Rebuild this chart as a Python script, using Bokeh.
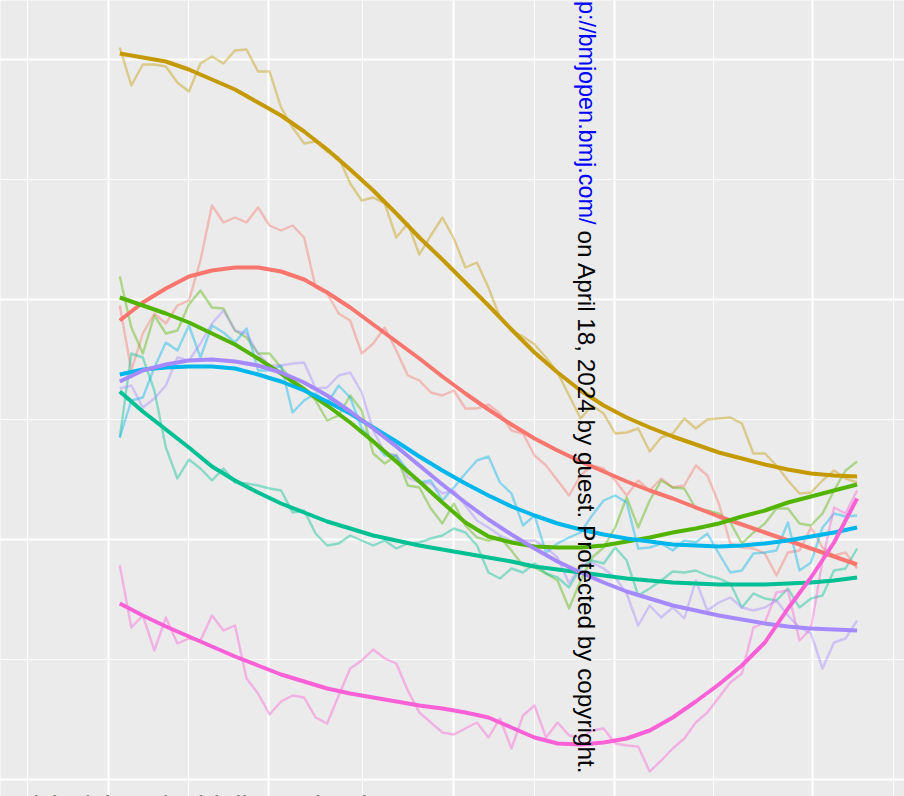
import math
from bokeh.plotting import figure
from bokeh.models import Range1d, FixedTicker, Label, Grid
from bokeh.embed import file_html
from bokeh.resources import INLINE

# ---------------- data ----------------
# x: observation index 0..64 ; y: value on the panel's (unlabelled) scale
idx = list(range(65))
smooth_idx = list(range(0, 65, 2))

gold_raw = [732, 694, 715, 715, 713, 697, 688, 716, 723, 716, 729, 730, 708, 708, 672, 652,
            636, 638, 628, 622, 596, 579, 582, 576, 542, 556, 525, 544, 562, 541, 512, 517,
            492, 462, 449, 443, 435, 422, 407, 384, 361, 374, 366, 346, 347, 351, 328, 342,
            346, 361, 351, 360, 361, 362, 356, 326, 326, 314, 299, 286, 287, 299, 309, 301, 297]
gold_smooth = [726, 722, 718, 710, 700, 690, 677, 664, 648, 630, 610, 589, 566, 542, 520, 497,
               474, 450, 427, 407, 389, 374, 362, 352, 343, 335, 327, 321, 315, 310, 306, 304, 303]

red_raw = [474, 409, 446, 466, 456, 474, 479, 519, 574, 557, 562, 557, 572, 554, 549, 554,
           542, 492, 486, 466, 459, 426, 436, 452, 429, 404, 399, 387, 384, 389, 371, 371,
           375, 366, 349, 346, 324, 314, 299, 284, 304, 314, 311, 299, 284, 299, 289, 301,
           292, 294, 314, 304, 276, 236, 232, 231, 226, 204, 227, 229, 252, 232, 224, 227, 211]
red_smooth = [459, 477, 491, 503, 509, 512, 512, 508, 500, 487, 472, 455, 438, 421, 403, 386,
              370, 355, 341, 329, 318, 308, 298, 289, 281, 272, 263, 255, 247, 239, 231, 223, 215]

green_raw = [503, 452, 426, 464, 446, 449, 475, 489, 472, 471, 449, 442, 426, 426, 412, 399,
             392, 379, 359, 364, 384, 369, 326, 316, 324, 294, 292, 271, 256, 276, 254, 242,
             239, 242, 229, 214, 212, 206, 199, 171, 199, 222, 232, 252, 282, 252, 279, 299,
             292, 291, 271, 269, 266, 257, 236, 247, 256, 271, 271, 256, 254, 266, 289, 309, 318]
green_smooth = [482, 474, 466, 457, 446, 435, 421, 406, 390, 374, 357, 338, 318, 298, 277, 257,
                243, 237, 233, 232, 232, 234, 238, 242, 247, 251, 256, 263, 269, 277, 283, 289, 295]

teal_raw = [342, 426, 422, 389, 332, 301, 320, 311, 299, 311, 297, 296, 294, 291, 289, 267,
            269, 246, 234, 236, 244, 239, 234, 239, 231, 236, 237, 241, 244, 251, 247, 234,
            207, 201, 211, 207, 216, 206, 202, 192, 212, 219, 216, 232, 219, 184, 191, 199,
            208, 207, 209, 204, 201, 196, 172, 186, 181, 179, 191, 172, 181, 184, 209, 211, 231]
teal_smooth = [388, 368, 350, 332, 313, 299, 287, 276, 267, 258, 251, 244, 239, 234, 230, 226,
               222, 218, 213, 210, 207, 204, 201, 199, 197, 196, 195, 195, 195, 196, 197, 199, 202]

blue_raw = [342, 379, 382, 412, 437, 429, 454, 422, 454, 447, 437, 451, 409, 409, 414, 367,
            379, 386, 376, 394, 382, 351, 339, 324, 324, 309, 297, 299, 279, 292, 306, 319,
            323, 297, 286, 254, 264, 227, 236, 242, 247, 264, 279, 284, 277, 231, 232, 236,
            229, 239, 237, 246, 226, 207, 209, 226, 227, 229, 257, 209, 217, 252, 266, 263, 264]
blue_smooth = [405, 410, 412, 413, 413, 411, 405, 398, 389, 378, 366, 352, 338, 323, 309, 296,
               284, 273, 264, 256, 250, 245, 241, 238, 235, 234, 233, 234, 236, 239, 243, 247, 252]

purple_raw = [391, 394, 372, 381, 394, 422, 419, 436, 456, 469, 449, 446, 426, 414, 414, 416,
              417, 391, 392, 404, 407, 387, 349, 327, 324, 302, 297, 296, 286, 289, 274, 259,
              252, 244, 239, 239, 239, 232, 222, 196, 214, 217, 211, 202, 186, 154, 174, 162,
              172, 161, 199, 169, 177, 182, 172, 169, 172, 179, 164, 152, 146, 111, 137, 141, 159]
purple_smooth = [398, 409, 415, 419, 420, 418, 414, 407, 397, 384, 368, 351, 333, 314, 295, 277,
                 260, 245, 231, 218, 207, 197, 188, 181, 174, 169, 164, 160, 156, 153, 151, 150, 149]

pink_raw = [214, 152, 164, 129, 162, 136, 141, 139, 164, 149, 154, 101, 86, 65, 78, 84,
            82, 62, 56, 84, 111, 119, 130, 121, 116, 89, 67, 57, 47, 45, 51, 57,
            42, 61, 31, 64, 74, 42, 57, 44, 42, 49, 51, 36, 34, 33, 8, 19,
            31, 41, 57, 67, 82, 97, 106, 152, 157, 187, 189, 139, 151, 219, 272, 266, 289]
pink_smooth = [176, 164, 153, 143, 133, 123, 114, 105, 98, 91, 86, 82, 78, 74, 71, 67,
               62, 52, 42, 36, 35, 37, 41, 49, 62, 78, 95, 114, 137, 171, 202, 237, 281]

series_colors = ["#F8766D", "#C49A00", "#53B400", "#00C094", "#00B6EB", "#A58AFF", "#FB61D7"]
series_raw = [red_raw, gold_raw, green_raw, teal_raw, blue_raw, purple_raw, pink_raw]
series_smooth = [red_smooth, gold_smooth, green_smooth, teal_smooth, blue_smooth, purple_smooth, pink_smooth]

x_major = [-0.98, 12.91, 28.96, 42.94, 60.13]
x_minor = [-8.01, 5.96, 21.07, 36.0, 51.53, 67.16]
y_major = [0, 240, 480, 720]
y_minor = [120, 360, 600]

# ---------------- layout helpers ----------------
W, H = 904, 796
X_PX0, X_STEP = 119.3, 11.52        # pixel position of index 0 and pixels per index
Y_PX0 = 779                          # pixel row of value 0


def px_to_x(px):
    return (px - X_PX0) / X_STEP


def py_to_y(py):
    return Y_PX0 - py


p = figure(width=W, height=H, output_backend="svg", toolbar_location=None,
           x_range=Range1d(px_to_x(0), px_to_x(W)),
           y_range=Range1d(py_to_y(H), py_to_y(0)),
           x_axis_location=None, y_axis_location=None,
           min_border=0, background_fill_color="#EBEBEB",
           border_fill_color="#EBEBEB", outline_line_color=None)
p.styles = {"position": "absolute", "left": "0px", "top": "0px"}
p.grid.visible = False

for dim, major, minor in ((0, x_major, x_minor), (1, y_major, y_minor)):
    g = Grid(dimension=dim, ticker=FixedTicker(ticks=major, minor_ticks=minor),
             grid_line_color="white", grid_line_width=2.2,
             minor_grid_line_color="white", minor_grid_line_width=1.1)
    p.add_layout(g, "center")

for c, raw in zip(series_colors, series_raw):
    p.line(idx, raw, line_color=c, line_alpha=0.42, line_width=2.4, line_join="round")

for c, sm in zip(series_colors, series_smooth):
    p.line(smooth_idx, sm, line_color=c, line_width=4.0, line_join="round")

font = "Liberation Sans"
p.add_layout(Label(x=px_to_x(586), y=py_to_y(224), text="p://bmjopen.bmj.com/",
                   angle=-math.pi / 2, text_align="right", text_baseline="alphabetic",
                   text_font=font, text_font_size="23.4px", text_color="#0000FF"))
p.add_layout(Label(x=px_to_x(586), y=py_to_y(230),
                   text="on April 18, 2024 by guest. Protected by copyright.",
                   angle=-math.pi / 2, text_align="left", text_baseline="alphabetic",
                   text_font=font, text_font_size="24.3px", text_color="#000000"))
p.add_layout(Label(x=px_to_x(6), y=py_to_y(805), text="m/site/about/guidelines.xhtml",
                   text_align="left", text_baseline="alphabetic",
                   text_font=font, text_font_size="28px", text_color="#808080"))

open("out.html", "w").write(file_html(p, INLINE))
